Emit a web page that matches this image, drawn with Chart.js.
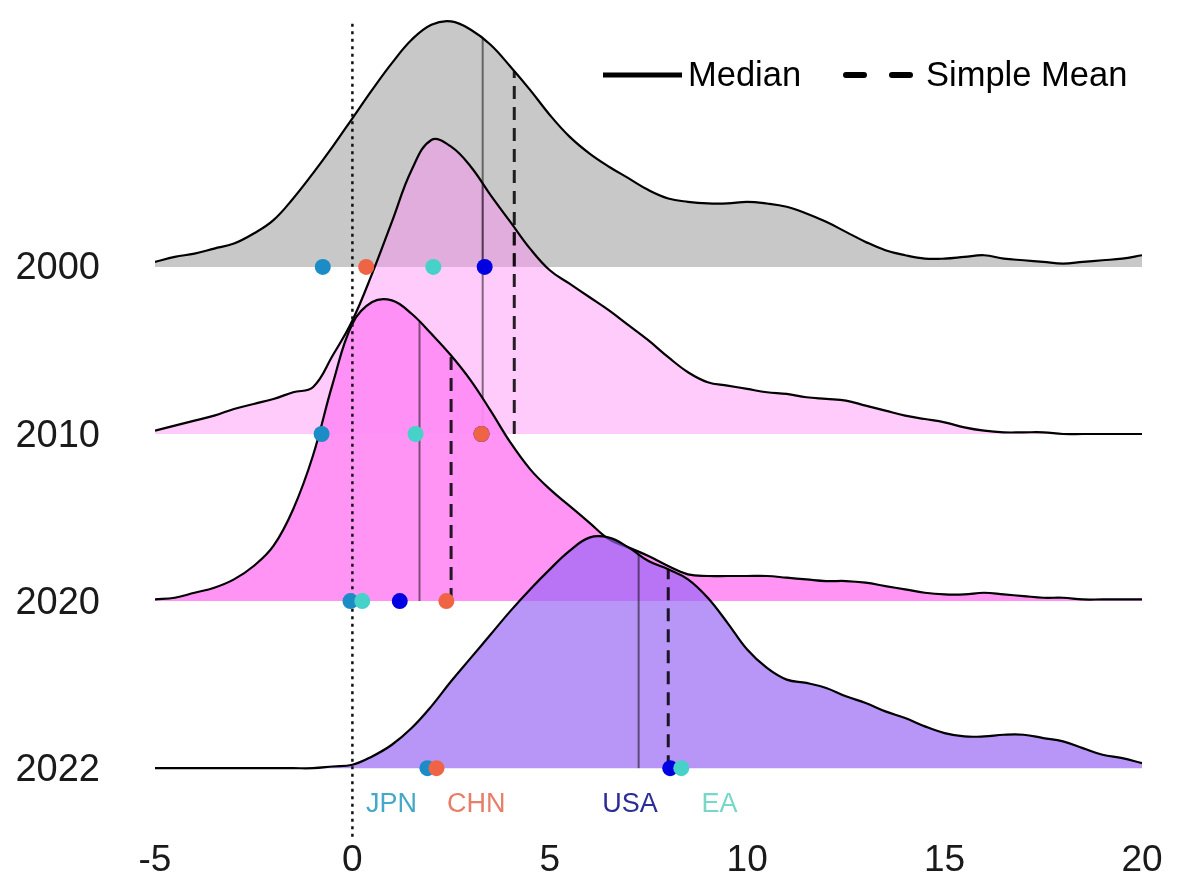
<!DOCTYPE html>
<html>
<head>
<meta charset="utf-8">
<script src="https://cdn.jsdelivr.net/npm/chart.js@4.4.1/dist/chart.umd.min.js"></script>
<style>
  html, body { margin: 0; padding: 0; background: #fff; }
  canvas { display: block; }
</style>
</head>
<body>
<canvas id="ridges" width="1178" height="886"></canvas>
<script>
// growth distribution by year (ridgeline), densities
const years = ['2000', '2010', '2020', '2022']

const xValues = [-5, -4.5, -4, -3.5, -3, -2.5, -2, -1.5, -1, -0.5, 0, 0.5, 1, 1.5, 2, 2.5, 3, 3.5, 4, 4.5,
  5, 5.5, 6, 6.5, 7, 7.5, 8, 8.5, 9, 9.5, 10, 10.5, 11, 11.5, 12, 12.5, 13, 13.5, 14, 14.5,
  15, 15.5, 16, 16.5, 17, 17.5, 18, 18.5, 19, 19.5, 20]

const density2000 = [0.03, 0.06, 0.08, 0.11, 0.14, 0.20, 0.28, 0.41, 0.56, 0.72, 0.89, 1.06, 1.22, 1.36, 1.45, 1.47, 1.42, 1.33, 1.20, 1.06,
  0.91, 0.78, 0.68, 0.60, 0.53, 0.46, 0.41, 0.39, 0.38, 0.38, 0.39, 0.38, 0.36, 0.32, 0.27, 0.21, 0.15, 0.10, 0.07, 0.05,
  0.05, 0.06, 0.07, 0.05, 0.04, 0.03, 0.02, 0.03, 0.04, 0.05, 0.07]
const density2010 = [0.02, 0.05, 0.08, 0.11, 0.15, 0.18, 0.21, 0.25, 0.28, 0.47, 0.68, 0.96, 1.27, 1.58, 1.76, 1.72, 1.60, 1.43, 1.27, 1.11,
  0.98, 0.90, 0.82, 0.74, 0.65, 0.56, 0.46, 0.37, 0.31, 0.29, 0.27, 0.25, 0.24, 0.22, 0.21, 0.20, 0.17, 0.14, 0.11, 0.09,
  0.07, 0.04, 0.02, 0.01, 0.01, 0.01, 0, 0, 0, 0, 0]
const density2020 = [0.01, 0.02, 0.05, 0.08, 0.13, 0.21, 0.33, 0.55, 0.87, 1.30, 1.66, 1.79, 1.80, 1.72, 1.60, 1.47, 1.32, 1.14, 0.95, 0.79,
  0.67, 0.57, 0.47, 0.37, 0.32, 0.27, 0.21, 0.16, 0.15, 0.15, 0.15, 0.15, 0.14, 0.13, 0.12, 0.12, 0.11, 0.09, 0.07, 0.05,
  0.04, 0.04, 0.05, 0.04, 0.03, 0.02, 0.02, 0.01, 0.01, 0.01, 0.01]
const density2022 = [0, 0, 0, 0, 0, 0, 0, 0, 0, 0.01, 0.02, 0.07, 0.14, 0.24, 0.37, 0.52, 0.66, 0.80, 0.94, 1.07,
  1.19, 1.30, 1.38, 1.38, 1.32, 1.24, 1.19, 1.13, 1.02, 0.87, 0.71, 0.60, 0.53, 0.51, 0.48, 0.43, 0.39, 0.34, 0.30, 0.25,
  0.21, 0.19, 0.19, 0.20, 0.20, 0.18, 0.16, 0.12, 0.08, 0.06, 0.03]

const medians = [3.3, 3.3, 1.7, 7.25]
const means = [4.1, 4.1, 2.5, 8.0]

// country markers, one value per year
const jpn = [-0.75, -0.78, -0.05, 1.9]
const usa = [3.35, 3.27, 1.2, 8.05]
const chn = [0.35, 3.27, 2.38, 2.13]
const ea = [2.05, 1.6, 0.25, 8.33]

const countryNames = ['JPN', 'CHN', 'USA', 'EA']
const countryLabelX = [0.99, 3.14, 7.03, 9.3]

const xTicks = [-5, 0, 5, 10, 15, 20]

const densities = [density2000, density2010, density2020, density2022]
const rowBase = [3, 2, 1, 0]
const fills = ['rgb(200,200,200)', 'rgba(255,140,245,0.45)', 'rgba(255,140,244,0.93)', 'rgba(150,100,245,0.68)']
const countryColors = {
  JPN: 'rgb(28,140,198)', CHN: 'rgb(240,100,70)', USA: 'rgb(0,0,225)', EA: 'rgb(70,210,200)'
}
const labelColors = {
  JPN: 'rgb(70,168,200)', CHN: 'rgb(232,125,105)', USA: 'rgb(45,45,150)', EA: 'rgb(120,215,200)'
}
const FONT = '"Liberation Sans", Arial, sans-serif'

// density height at x, linear between sampled points
function heightAt(dens, x) {
  for (let k = 0; k < xValues.length - 1; k++) {
    if (x >= xValues[k] && x <= xValues[k + 1]) {
      let t = (x - xValues[k]) / (xValues[k + 1] - xValues[k])
      return dens[k] + t * (dens[k + 1] - dens[k])
    }
  }
  return 0
}

let datasets = []

years.forEach((year, i) => {
  let base = rowBase[i]
  let dens = densities[i]
  datasets.push({
    type: 'line',
    label: year,
    data: xValues.map((x, k) => ({ x: x, y: base + dens[k] })),
    borderColor: '#000',
    borderWidth: 2.2,
    backgroundColor: fills[i],
    fill: { value: base },
    pointRadius: 0,
    tension: 0.4
  })
  datasets.push({
    type: 'line',
    label: year + ' median',
    data: [{ x: medians[i], y: base }, { x: medians[i], y: base + heightAt(dens, medians[i]) }],
    borderColor: 'rgba(0,0,0,0.5)',
    borderWidth: 2,
    pointRadius: 0,
    fill: false
  })
  datasets.push({
    type: 'line',
    label: year + ' mean',
    data: [{ x: means[i], y: base }, { x: means[i], y: base + heightAt(dens, means[i]) }],
    borderColor: 'rgba(0,0,0,0.85)',
    borderWidth: 3,
    borderDash: [13, 8],
    pointRadius: 0,
    fill: false
  })
})

// reference line at zero
datasets.push({
  type: 'line',
  label: 'zero',
  data: [{ x: 0, y: -0.41 }, { x: 0, y: 4.46 }],
  borderColor: '#111',
  borderWidth: 2.5,
  borderDash: [3, 4.5],
  pointRadius: 0,
  fill: false
})

const countrySeries = [['JPN', jpn], ['USA', usa], ['CHN', chn], ['EA', ea]]
countrySeries.forEach(([name, vals]) => {
  datasets.push({
    type: 'scatter',
    label: name,
    data: vals.map((v, i) => ({ x: v, y: rowBase[i] })),
    backgroundColor: countryColors[name],
    pointRadius: 8,
    pointBorderWidth: 0,
    pointHoverRadius: 8
  })
})

// first pushed = drawn first (bottom)
datasets.forEach((d, i) => { d.order = datasets.length - i })

const overlayPlugin = {
  id: 'overlay',
  afterDraw(chart) {
    const ctx = chart.ctx
    const xs = chart.scales.x
    const ys = chart.scales.y
    const area = chart.chartArea
    ctx.save()

    // year labels
    ctx.fillStyle = '#1a1a1a'
    ctx.font = '38px ' + FONT
    ctx.textAlign = 'right'
    ctx.textBaseline = 'middle'
    years.forEach((year, i) => {
      ctx.fillText(year, area.left - 55, ys.getPixelForValue(rowBase[i]) + 2)
    })

    // country names under last row
    ctx.font = '27px ' + FONT
    ctx.textAlign = 'center'
    countryNames.forEach((name, i) => {
      ctx.fillStyle = labelColors[name]
      ctx.fillText(name, xs.getPixelForValue(countryLabelX[i]), ys.getPixelForValue(-0.22))
    })

    // legend
    ctx.strokeStyle = '#000'
    ctx.lineWidth = 5
    ctx.lineCap = 'butt'
    ctx.beginPath()
    ctx.moveTo(603, 75)
    ctx.lineTo(682, 75)
    ctx.stroke()
    ctx.lineWidth = 6
    ctx.lineCap = 'round'
    ctx.beginPath()
    ctx.moveTo(846, 75)
    ctx.lineTo(864, 75)
    ctx.moveTo(892, 75)
    ctx.lineTo(910, 75)
    ctx.stroke()
    ctx.fillStyle = '#000'
    ctx.font = '34.5px ' + FONT
    ctx.textAlign = 'left'
    ctx.fillText('Median', 688, 76)
    ctx.fillText('Simple Mean', 926, 76)
    ctx.restore()
  }
}

new Chart(document.getElementById('ridges'), {
  type: 'line',
  data: { datasets: datasets },
  options: {
    responsive: false,
    animation: false,
    layout: { padding: { top: 0, right: 36, bottom: 0, left: 155 } },
    plugins: {
      legend: { display: false },
      tooltip: { enabled: false }
    },
    scales: {
      x: {
        type: 'linear',
        min: -5,
        max: 20,
        afterBuildTicks: axis => { axis.ticks = xTicks.map(v => ({ value: v })) },
        afterFit: axis => { axis.height = 41 },
        grid: { display: false, drawTicks: false },
        border: { display: false },
        ticks: {
          color: '#1a1a1a',
          font: { size: 37, family: FONT },
          padding: -6,
          maxRotation: 0
        }
      },
      y: {
        type: 'linear',
        min: -0.46,
        max: 4.55,
        display: false
      }
    }
  },
  plugins: [overlayPlugin]
})
</script>
</body>
</html>
